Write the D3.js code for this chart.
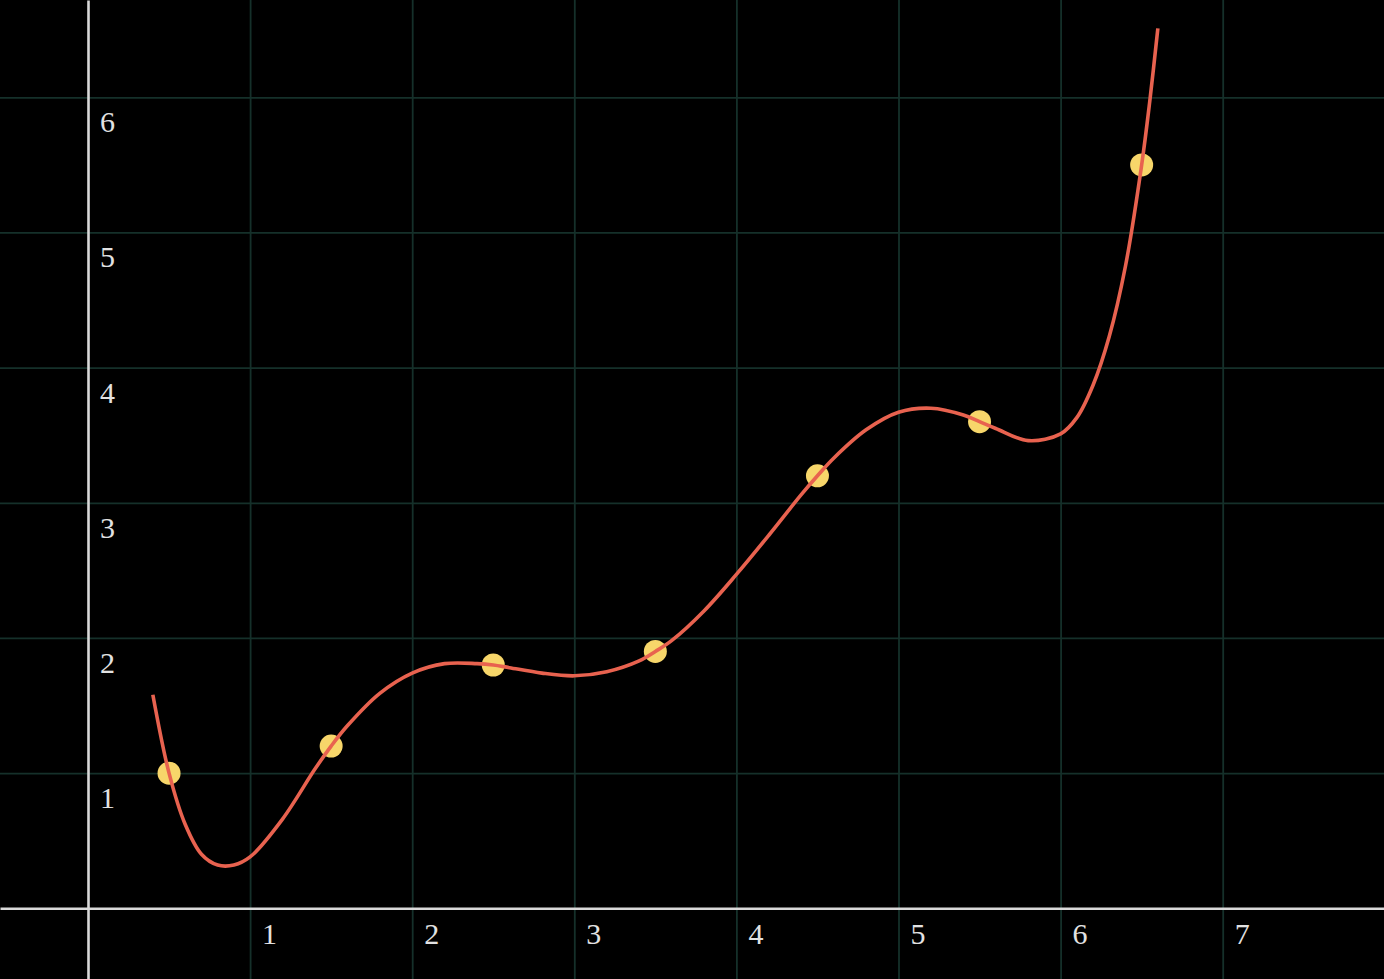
<!DOCTYPE html>
<html>
<head>
<meta charset="utf-8">
<script src="https://cdn.jsdelivr.net/npm/d3@7"></script>
<style>
  html, body { margin: 0; padding: 0; background: #000; overflow: hidden; }
  svg { display: block; }
</style>
</head>
<body>
<svg id="chart" width="1384" height="979"></svg>
<script>
// ---- data ----
const pointX = [0.5, 1.5, 2.5, 3.5, 4.5, 5.5, 6.5];
const pointY = [1.0, 1.2, 1.8, 1.9, 3.2, 3.6, 5.5];

// fitted curve
const curveX = [0.4, 0.5, 0.6, 0.7, 0.8, 0.9, 1.0, 1.2, 1.4, 1.5, 1.6, 1.8, 2.0, 2.2, 2.4, 2.5, 2.6, 2.8, 3.0,
                3.2, 3.4, 3.5, 3.6, 3.8, 4.0, 4.2, 4.4, 4.5, 4.6, 4.8, 5.0, 5.2, 5.4, 5.5, 5.6, 5.8, 6.0,
                6.1, 6.2, 6.3, 6.4, 6.5, 6.55, 6.6];
const curveY = [1.58, 1.00, 0.62, 0.40, 0.32, 0.32, 0.38, 0.66, 1.03, 1.20, 1.35, 1.59, 1.74, 1.81, 1.81, 1.80, 1.78, 1.74, 1.72,
                1.75, 1.83, 1.90, 1.98, 2.20, 2.47, 2.76, 3.06, 3.20, 3.33, 3.54, 3.67, 3.70, 3.65, 3.60, 3.55, 3.46, 3.51,
                3.63, 3.87, 4.23, 4.75, 5.50, 5.97, 6.51];

const xTicks = [1, 2, 3, 4, 5, 6, 7];
const yTicks = [1, 2, 3, 4, 5, 6, 7];
const xTickLabels = ["1", "2", "3", "4", "5", "6", "7"];
const yTickLabels = ["1", "2", "3", "4", "5", "6", "7"];

// ---- layout ----
const W = 1384, H = 979;
const svg = d3.select("#chart");
svg.append("rect").attr("width", W).attr("height", H).attr("fill", "#000");

const x = d3.scaleLinear().domain([0, 7]).range([88, 1222.7]);
const y = d3.scaleLinear().domain([0, 6]).range([908.3, 97.3]);
const xFull = x.copy().domain([x.invert(0), x.invert(W)]).range([0, W]);
const yFull = y.copy().domain([y.invert(H), y.invert(0)]).range([H, 0]);

const gridColor = "#15302a";
const fontFamily = "'Liberation Serif', 'DejaVu Serif', serif";

// vertical grid
svg.append("g")
  .attr("transform", `translate(0,${H})`)
  .call(d3.axisBottom(xFull).tickValues(xTicks).tickSize(-H).tickFormat(""))
  .call(g => g.select(".domain").remove())
  .call(g => g.selectAll("line").attr("stroke", gridColor).attr("stroke-width", 1.8));

// horizontal grid
svg.append("g")
  .call(d3.axisRight(yFull).tickValues(yTicks).tickSize(W).tickFormat(""))
  .call(g => g.select(".domain").remove())
  .call(g => g.selectAll("line").attr("stroke", gridColor).attr("stroke-width", 1.8));

// axes lines (full width / height) with labels
svg.append("g")
  .attr("transform", `translate(0,${y(0)})`)
  .call(d3.axisBottom(xFull).tickValues(xTicks).tickSize(0).tickPadding(14)
        .tickFormat((d, i) => xTickLabels[i]))
  .call(g => g.select(".domain").attr("stroke", "#d9d9d9").attr("stroke-width", 2.6))
  .call(g => g.selectAll("text")
        .attr("dx", 19)
        .attr("font-family", fontFamily)
        .attr("font-size", 30)
        .attr("fill", "#e2e2e2"));

svg.append("g")
  .attr("transform", `translate(${x(0)},0)`)
  .call(d3.axisRight(yFull).tickValues(yTicks).tickSize(0).tickPadding(12)
        .tickFormat((d, i) => yTickLabels[i]))
  .call(g => g.select(".domain").attr("stroke", "#d9d9d9").attr("stroke-width", 2.6))
  .call(g => g.selectAll("text")
        .attr("dy", "1.15em")
        .attr("font-family", fontFamily)
        .attr("font-size", 30)
        .attr("fill", "#e2e2e2"));

// points (under the curve)
const pts = pointX.map((v, i) => [v, pointY[i]]);
svg.append("g").selectAll("circle")
  .data(pts)
  .join("circle")
  .attr("cx", d => x(d[0]))
  .attr("cy", d => y(d[1]))
  .attr("r", 11.5)
  .attr("fill", "#f7d66a");

// curve
const curveData = curveX.map((v, i) => [v, curveY[i]]);
const line = d3.line().x(d => x(d[0])).y(d => y(d[1])).curve(d3.curveCatmullRom.alpha(0.5));
svg.append("path")
  .datum(curveData)
  .attr("d", line)
  .attr("fill", "none")
  .attr("stroke", "#e8624f")
  .attr("stroke-width", 3.6)
  .attr("stroke-linecap", "butt");
</script>
</body>
</html>
